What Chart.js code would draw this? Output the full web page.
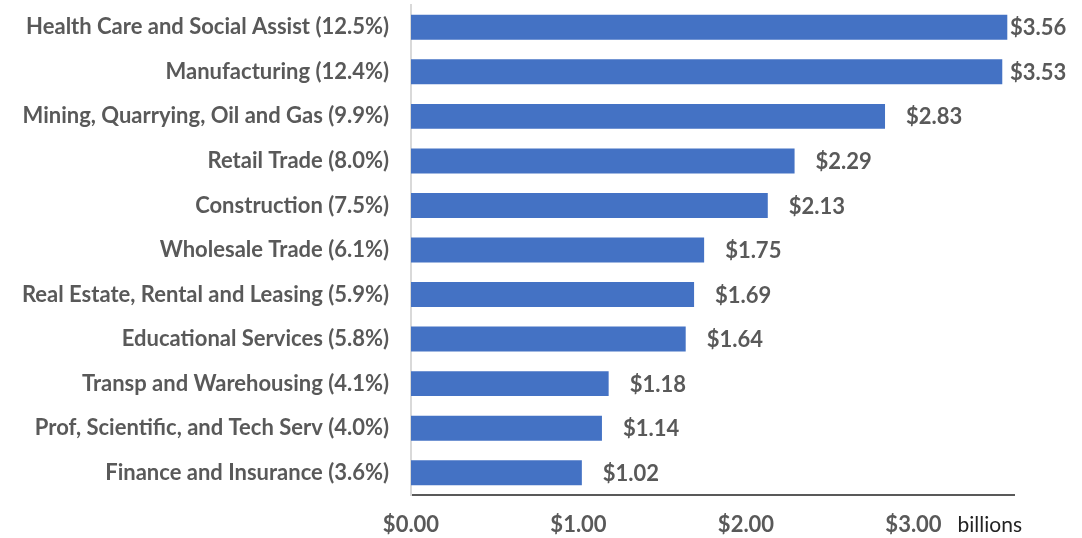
<!DOCTYPE html>
<html>
<head>
<meta charset="utf-8">
<script src="https://cdn.jsdelivr.net/npm/chart.js@4"></script>
<style>
  html, body { margin: 0; padding: 0; background: #fff; }
  #wrap { width: 1082px; height: 538px; position: relative; }
</style>
</head>
<body>
<div id="wrap"><canvas id="chart-industries"></canvas></div>
<script>
const industries = [
  "Health Care and Social Assist (12.5%)",
  "Manufacturing (12.4%)",
  "Mining, Quarrying, Oil and Gas (9.9%)",
  "Retail Trade (8.0%)",
  "Construction (7.5%)",
  "Wholesale Trade (6.1%)",
  "Real Estate, Rental and Leasing (5.9%)",
  "Educational Services (5.8%)",
  "Transp and Warehousing (4.1%)",
  "Prof, Scientific, and Tech Serv (4.0%)",
  "Finance and Insurance (3.6%)"
]
const billions = [3.56, 3.53, 2.83, 2.29, 2.13, 1.75, 1.69, 1.64, 1.18, 1.14, 1.02]
const tickValues = [0, 1, 2, 3]
const unitLabel = "billions"

const FONT = "Lato, 'Open Sans', sans-serif"
const GRAY = "#595959"

// value labels at bar ends + "billions" next to the last tick
const labelsPlugin = {
  id: "labels",
  afterDatasetsDraw(chart) {
    const ctx = chart.ctx
    const meta = chart.getDatasetMeta(0)
    ctx.save()
    ctx.font = "bold 22px " + FONT
    ctx.fillStyle = GRAY
    ctx.textBaseline = "middle"
    ctx.textAlign = "left"
    meta.data.forEach((bar, i) => {
      const x = Math.min(bar.x + 21, chart.chartArea.right - 4)
      ctx.fillText("$" + billions[i].toFixed(2), x, bar.y + 1)
    })
    const xs = chart.scales.x
    ctx.font = "21px " + FONT
    ctx.fillStyle = "#222"
    ctx.fillText(unitLabel, xs.getPixelForValue(3) + 44, 525)
    ctx.restore()
  }
}

new Chart(document.getElementById("chart-industries"), {
  type: "bar",
  data: {
    labels: industries,
    datasets: [{
      data: billions,
      backgroundColor: "#4472C4",
      borderWidth: 0,
      categoryPercentage: 1,
      barPercentage: 0.56
    }]
  },
  options: {
    indexAxis: "y",
    responsive: true,
    maintainAspectRatio: false,
    animation: false,
    layout: { padding: { top: 5, right: 68, left: 0, bottom: 0 } },
    plugins: { legend: { display: false }, tooltip: { enabled: false } },
    scales: {
      x: {
        min: 0,
        max: 3.6,
        afterBuildTicks: s => { s.ticks = tickValues.map(v => ({ value: v })) },
        afterFit: s => { s.height = 43; s.paddingLeft = 0; s.paddingRight = 0 },
        grid: { display: false, drawTicks: false },
        border: { color: GRAY, width: 2 },
        ticks: {
          padding: 17,
          color: GRAY,
          font: { family: FONT, size: 22, weight: "bold" },
          callback: v => "$" + Number(v).toFixed(2)
        }
      },
      y: {
        afterFit: s => { s.width = 411; s.paddingTop = 0; s.paddingBottom = 0 },
        grid: { display: false, drawTicks: false },
        border: { color: "#d9d9d9", width: 2 },
        ticks: {
          padding: 22,
          color: GRAY,
          font: { family: FONT, size: 22, weight: "bold" }
        }
      }
    }
  },
  plugins: [labelsPlugin]
})
</script>
</body>
</html>
